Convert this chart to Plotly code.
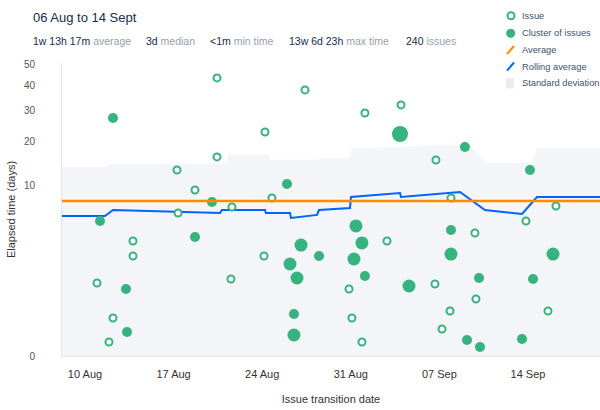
import numpy as np
import plotly.graph_objects as go

# ---------------- data ----------------
issue_dates = [
    "2015-08-20 10:20", "2015-08-27 09:10", "2015-09-01 02:50", "2015-09-03 23:15",
    "2015-08-24 05:20", "2015-08-17 06:30", "2015-08-20 10:20", "2015-08-18 16:35",
    "2015-08-24 18:30", "2015-08-21 14:40", "2015-08-17 08:25", "2015-08-13 19:00",
    "2015-08-13 19:00", "2015-08-10 22:45", "2015-08-12 05:05", "2015-08-11 21:30",
    "2015-08-21 12:45", "2015-08-24 03:25", "2015-09-06 17:30", "2015-09-07 22:00",
    "2015-09-16 05:05", "2015-09-13 20:10", "2015-09-02 20:40", "2015-08-30 20:40",
    "2015-08-31 02:10", "2015-08-31 21:10", "2015-09-06 15:35", "2015-09-09 19:25",
    "2015-09-09 21:20", "2015-09-07 20:10", "2015-09-07 05:00", "2015-09-15 13:55",
]
issue_days = [
    43.6, 38.2, 29.1, 32.1,
    22.8, 13.05, 16.0, 9.28,
    8.0, 6.71, 5.93, 3.08,
    2.03, 0.79, 0.111, 0.0056,
    0.926, 2.03, 15.27, 8.0,
    6.85, 4.99, 3.08, 0.61,
    0.111, 0.0056, 0.757, 3.77,
    0.376, 0.185, 0.040, 0.185,
]

cluster_dates = [
    "2015-08-12 05:05", "2015-08-20 00:45", "2015-08-25 23:00", "2015-08-11 04:30",
    "2015-08-18 16:35", "2015-08-13 05:45", "2015-08-13 07:40", "2015-08-27 01:40",
    "2015-08-26 04:45", "2015-08-26 18:00", "2015-08-28 11:45", "2015-08-26 12:15",
    "2015-08-26 12:15", "2015-09-03 21:20", "2015-09-09 00:30", "2015-09-14 03:50",
    "2015-08-31 09:50", "2015-08-31 21:10", "2015-08-31 06:00", "2015-09-01 02:50",
    "2015-09-04 14:25", "2015-09-07 22:00", "2015-09-07 22:00", "2015-09-10 03:10",
    "2015-09-14 09:35", "2015-09-15 23:30", "2015-09-09 04:20", "2015-09-10 05:00",
    "2015-09-13 12:40",
]
cluster_days = [
    27.35, 7.41, 10.32, 4.99,
    3.42, 0.61, 0.028, 2.77,
    1.58, 0.963, 2.03, 0.150,
    0.0188, 22.19, 18.52, 13.05,
    4.46, 2.93, 1.85, 1.04,
    0.696, 4.06, 2.15, 0.963,
    0.926, 2.15, 0.0083, 0.0015,
    0.010,
]
cluster_counts = [
    2, 2, 2, 2,
    2, 2, 2, 4,
    4, 4, 2, 2,
    4, 6, 2, 2,
    4, 4, 4, 2,
    4, 2, 4, 2,
    2, 4, 2, 2,
    2,
]

rolling_dates = [
    "2015-08-08 04:24", "2015-08-11 13:55", "2015-08-12 05:05", "2015-08-17 08:25",
    "2015-08-20 16:00", "2015-08-20 19:40", "2015-08-24 05:20", "2015-08-24 07:00",
    "2015-08-26 04:45", "2015-08-26 06:40", "2015-08-28 07:55", "2015-08-28 11:45",
    "2015-08-30 22:30", "2015-08-31 00:25", "2015-09-03 21:20", "2015-09-03 23:15",
    "2015-09-08 15:05", "2015-09-10 14:25", "2015-09-13 12:40", "2015-09-14 17:05",
    "2015-09-19 16:35",
]
rolling_days = [
    5.57, 5.57, 6.31, 6.06,
    5.93, 6.31, 6.31, 5.93,
    5.93, 5.33, 5.69, 6.31,
    6.58, 8.15, 8.78, 8.15,
    8.95, 6.31, 5.81, 8.15,
    8.15,
]

band_dates = [
    "2015-08-08 04:24", "2015-08-11 17:45", "2015-08-11 23:30", "2015-08-21 05:15",
    "2015-08-21 07:10", "2015-08-24 11:00", "2015-08-24 14:50", "2015-08-28 09:50",
    "2015-08-28 13:40", "2015-08-30 22:30", "2015-08-31 02:10", "2015-09-03 21:20",
    "2015-09-07 01:10", "2015-09-09 10:00", "2015-09-10 18:15", "2015-09-14 09:35",
    "2015-09-14 17:05", "2015-09-19 16:35",
]
band_upper_days = [
    13.7, 13.7, 14.4, 14.4,
    16.5, 16.5, 15.3, 15.3,
    15.7, 15.7, 18.25, 18.5,
    19.05, 19.05, 14.6, 14.6,
    18.25, 18.25,
]

average_days = 7 + 13 / 24 + 17 / 1440   # 1w 13h 17m

y_tick_values = [0, 10, 20, 30, 40, 50]
x_tick_dates = ["2015-08-10", "2015-08-17", "2015-08-24", "2015-08-31", "2015-09-07", "2015-09-14"]
x_tick_labels = ["10 Aug", "17 Aug", "24 Aug", "31 Aug", "07 Sep", "14 Sep"]
x_range = ["2015-08-08 04:24", "2015-09-19 16:35"]
y_max_days = 51.0

title_text = "06 Aug to 14 Sept"
stat_values = ["1w 13h 17m", "3d", "<1m", "13w 6d 23h", "240"]
stat_labels = ["average", "median", "min time", "max time", "issues"]
legend_labels = ["Issue", "Cluster of issues", "Average", "Rolling average", "Standard deviation"]

# ---------------- styling / layout ----------------
W, H = 600, 410
L, R, T, B = 62, 0, 63, 54
GREEN = "#36b37e"
ORANGE = "#ff8b00"
BLUE = "#0065ff"
BAND = "#f4f5f8"
DARK = "#172b4d"
GREY = "#97a0af"
FONT = "Liberation Sans, Arial, sans-serif"


def scale(v):
    # cube-root (power 1/3) elapsed-time scale
    return np.cbrt(np.asarray(v, dtype=float))


def pxx(px):
    return (px - L) / (W - L - R)


def pxy(py):
    return (H - B - py) / (H - T - B)


fig = go.Figure()

fig.add_trace(go.Scatter(
    x=band_dates, y=scale(band_upper_days), mode="lines",
    line=dict(width=0, shape="linear"), fill="tozeroy", fillcolor=BAND,
    hoverinfo="skip", showlegend=False))

fig.add_shape(type="line", xref="paper", x0=0, x1=1, yref="y",
              y0=float(scale(average_days)), y1=float(scale(average_days)),
              line=dict(color=ORANGE, width=2.5), layer="above")

fig.add_trace(go.Scatter(
    x=rolling_dates, y=scale(rolling_days), mode="lines",
    line=dict(color=BLUE, width=2), showlegend=False))

fig.add_trace(go.Scatter(
    x=issue_dates, y=scale(issue_days), mode="markers",
    marker=dict(symbol="circle", size=7, color="white", line=dict(color=GREEN, width=2)),
    showlegend=False))

fig.add_trace(go.Scatter(
    x=cluster_dates, y=scale(cluster_days), mode="markers",
    marker=dict(symbol="circle", size=[7 + 1.5 * c for c in cluster_counts], color=GREEN,
                line=dict(width=0), opacity=1),
    showlegend=False))

annotations = []
annotations.append(dict(x=pxx(31), y=pxy(18), xref="paper", yref="paper", text=title_text,
                        showarrow=False, xanchor="left", yanchor="middle",
                        font=dict(size=13, color=DARK, family=FONT)))
stat_x = [31, 144, 208, 287, 404]
for sx, v, lab in zip(stat_x, stat_values, stat_labels):
    annotations.append(dict(x=pxx(sx), y=pxy(41.5), xref="paper", yref="paper",
                            text=f"{v.replace('<', '&lt;')} <span style='color:{GREY}'>{lab}</span>",
                            showarrow=False, xanchor="left", yanchor="middle",
                            font=dict(size=10.5, color=DARK, family=FONT)))

legend_y = [15.7, 33.3, 50, 66.7, 83.3]
for ly, lab in zip(legend_y, legend_labels):
    annotations.append(dict(x=pxx(520), y=pxy(ly), xref="paper", yref="paper", text=lab,
                            showarrow=False, xanchor="left", yanchor="middle",
                            font=dict(size=9.3, color="#42526e", family=FONT)))

shapes = [
    dict(type="circle", xref="paper", yref="paper", x0=pxx(507.5), x1=pxx(514.5),
         y0=pxy(19.2), y1=pxy(12.2), line=dict(color=GREEN, width=2), fillcolor="white"),
    dict(type="circle", xref="paper", yref="paper", x0=pxx(506.2), x1=pxx(515.2),
         y0=pxy(37.8), y1=pxy(28.8), line=dict(width=0), fillcolor=GREEN),
    dict(type="line", xref="paper", yref="paper", x0=pxx(507), x1=pxx(514),
         y0=pxy(54), y1=pxy(46), line=dict(color=ORANGE, width=2)),
    dict(type="line", xref="paper", yref="paper", x0=pxx(507), x1=pxx(514),
         y0=pxy(70.7), y1=pxy(62.5), line=dict(color=BLUE, width=2)),
    dict(type="rect", xref="paper", yref="paper", x0=pxx(506), x1=pxx(514),
         y0=pxy(88.5), y1=pxy(78), line=dict(width=0), fillcolor="#ebecf0"),
]
for s in shapes:
    fig.add_shape(**s)

fig.update_layout(
    width=W, height=H,
    margin=dict(l=L, r=R, t=T, b=B, pad=0),
    paper_bgcolor="white", plot_bgcolor="white",
    font=dict(family=FONT, color="#333333"),
    showlegend=False,
    annotations=annotations,
    hovermode=False,
)
fig.update_xaxes(
    type="date", range=x_range, tickvals=x_tick_dates, ticktext=x_tick_labels,
    showgrid=False, zeroline=False, showline=True, linecolor="#e4e5ea", linewidth=1,
    ticks="", tickfont=dict(size=11, color="#333333"), ticklabelstandoff=8,
    title=dict(text="Issue transition date", font=dict(size=11, color="#333333"), standoff=16),
)
fig.update_yaxes(
    range=[0, float(scale(y_max_days))], tickvals=list(scale(y_tick_values)),
    ticktext=[str(v) for v in y_tick_values],
    showgrid=False, zeroline=False, showline=True, linecolor="#e4e5ea", linewidth=1,
    ticks="", tickfont=dict(size=10, color="#555555"), ticklabelstandoff=24,
    title=dict(text="Elapsed time (days)", font=dict(size=11, color="#333333"), standoff=6),
)

fig.write_html("out.html")
